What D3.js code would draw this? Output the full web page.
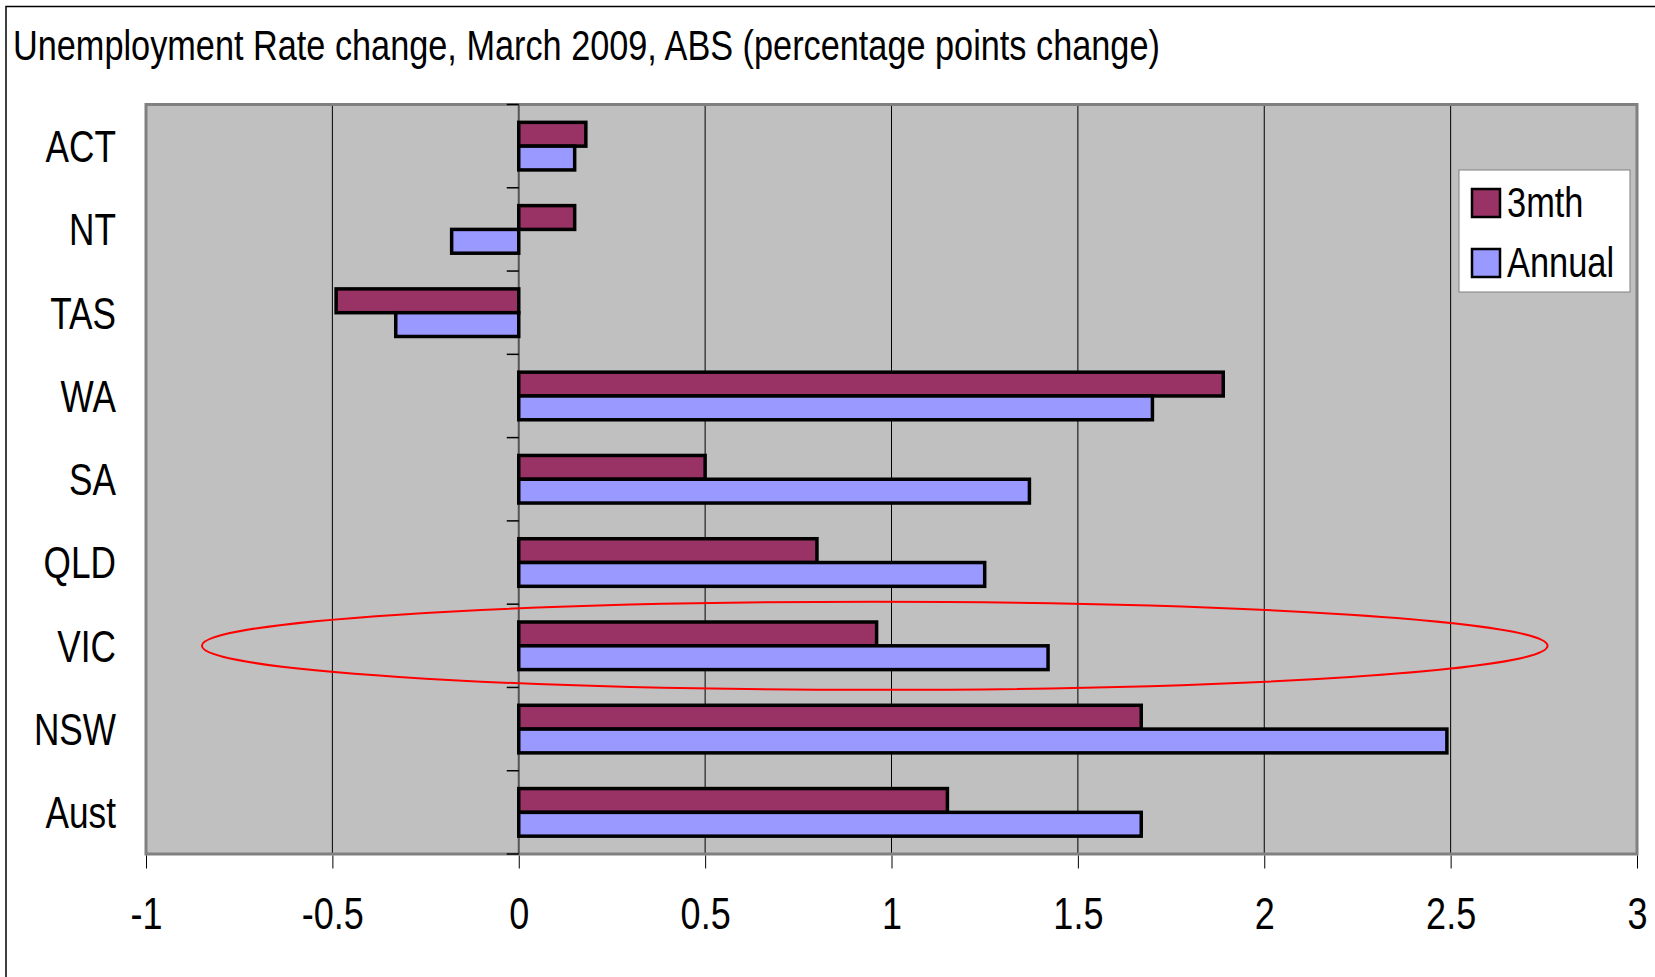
<!DOCTYPE html>
<html>
<head>
<meta charset="utf-8">
<script src="https://cdn.jsdelivr.net/npm/d3@7"></script>
<style>
  body { margin: 0; background: #fff; }
  svg text { font-family: "Liberation Sans Narrow", "Arial Narrow", "Liberation Sans", sans-serif; fill: #000; }
</style>
</head>
<body>
<svg id="chart"></svg>
<script>
// data
const categories = ["ACT", "NT", "TAS", "WA", "SA", "QLD", "VIC", "NSW", "Aust"];
const threeMonth = [0.18, 0.15, -0.49, 1.89, 0.5, 0.8, 0.96, 1.67, 1.15];
const annual = [0.15, -0.18, -0.33, 1.7, 1.37, 1.25, 1.42, 2.49, 1.67];
const seriesNames = ["3mth", "Annual"];
const seriesColors = ["#993366", "#9999FF"];
const xTicks = [-1, -0.5, 0, 0.5, 1, 1.5, 2, 2.5, 3];
const titleText = "Unemployment Rate change, March 2009, ABS (percentage points change)";
// highlight ellipse around VIC, in data units
const highlightCat = "VIC";
const highlightRange = [-0.85, 2.76];

const W = 1655, H = 977;
const plot = { left: 146, right: 1637, top: 104.5, bottom: 854 };

const svg = d3.select("#chart").attr("width", W).attr("height", H);

// no narrow font installed: squeeze the regular one to Arial Narrow width
function narrow(sel, k = 0.8) {
  sel.each(function () {
    const len = this.getComputedTextLength();
    d3.select(this).attr("textLength", len * k).attr("lengthAdjust", "spacingAndGlyphs");
  });
}

// outer chart border (runs off the right/bottom of the picture)
svg.append("rect")
  .attr("x", 6).attr("y", 6.5)
  .attr("width", W + 20).attr("height", H + 20)
  .attr("fill", "#fff").attr("stroke", "#000").attr("stroke-width", 1.5);

svg.append("text")
  .attr("x", 13).attr("y", 60)
  .style("font-size", "43px")
  .text(titleText)
  .call(narrow, 0.797);

const x = d3.scaleLinear().domain([-1, 3]).range([plot.left, plot.right]);
const y = d3.scaleBand().domain(categories)
  .range([plot.top, plot.bottom])
  .paddingInner(0.4286).paddingOuter(0.2143);
const ySub = d3.scaleBand().domain(seriesNames).range([0, y.bandwidth()]);
const step = y.step();

// plot area
svg.append("rect")
  .attr("x", plot.left).attr("y", plot.top)
  .attr("width", plot.right - plot.left).attr("height", plot.bottom - plot.top)
  .attr("fill", "#C0C0C0");

// gridlines
svg.append("g").selectAll("line")
  .data(xTicks.filter((d) => d !== -1 && d !== 3 && d !== 0))
  .enter().append("line")
  .attr("x1", (d) => x(d)).attr("x2", (d) => x(d))
  .attr("y1", plot.top).attr("y2", plot.bottom)
  .attr("stroke", "#000").attr("stroke-width", 1);

// plot border
svg.append("rect")
  .attr("x", plot.left).attr("y", plot.top)
  .attr("width", plot.right - plot.left).attr("height", plot.bottom - plot.top)
  .attr("fill", "none").attr("stroke", "#808080").attr("stroke-width", 3);

// x axis
const xAxis = svg.append("g")
  .attr("transform", `translate(0,${plot.bottom + 1.5})`)
  .call(d3.axisBottom(x).tickValues(xTicks).tickSize(13).tickPadding(16).tickFormat((d) => String(d)));
xAxis.select(".domain").remove();
xAxis.selectAll(".tick line").attr("stroke", "#000");
xAxis.selectAll(".tick text")
  .style("font-size", "45px")
  .attr("dy", "0.71em")
  .attr("y", 42)
  .call(narrow, 0.8);

// vertical axis at zero
svg.append("line")
  .attr("x1", x(0)).attr("x2", x(0))
  .attr("y1", plot.top).attr("y2", plot.bottom)
  .attr("stroke", "#555").attr("stroke-width", 2);
svg.append("g").selectAll("line")
  .data(d3.range(categories.length + 1))
  .enter().append("line")
  .attr("x1", x(0) - 12).attr("x2", x(0))
  .attr("y1", (i) => plot.top + i * step).attr("y2", (i) => plot.top + i * step)
  .attr("stroke", "#000").attr("stroke-width", 1.5);

// category labels
svg.append("g").selectAll("text")
  .data(categories)
  .enter().append("text")
  .attr("x", 116)
  .attr("y", (d) => plot.top + categories.indexOf(d) * step + step / 2)
  .attr("dy", "0.36em")
  .attr("text-anchor", "end")
  .style("font-size", "44px")
  .text((d) => d)
  .call(narrow, 0.8);

// bars
const series = [threeMonth, annual];
series.forEach((vals, si) => {
  svg.append("g").selectAll("rect")
    .data(categories.map((c, i) => ({ c, v: vals[i] })))
    .enter().append("rect")
    .attr("x", (d) => x(Math.min(0, d.v)))
    .attr("y", (d) => y(d.c) + ySub(seriesNames[si]))
    .attr("width", (d) => Math.abs(x(d.v) - x(0)))
    .attr("height", ySub.bandwidth())
    .attr("fill", seriesColors[si])
    .attr("stroke", "#000").attr("stroke-width", 3.5);
});

// legend
const legend = svg.append("g").attr("transform", "translate(1459,170)");
legend.append("rect")
  .attr("width", 171).attr("height", 122)
  .attr("fill", "#fff").attr("stroke", "#808080").attr("stroke-width", 1);
seriesNames.forEach((name, i) => {
  legend.append("rect")
    .attr("x", 13).attr("y", 19 + i * 60)
    .attr("width", 28).attr("height", 28)
    .attr("fill", seriesColors[i])
    .attr("stroke", "#000").attr("stroke-width", 2.5);
  legend.append("text")
    .attr("x", 48).attr("y", 47 + i * 60)
    .style("font-size", "43px")
    .text(name)
    .call(narrow, 0.8);
});

// red highlight ellipse
svg.append("ellipse")
  .attr("cx", (x(highlightRange[0]) + x(highlightRange[1])) / 2)
  .attr("cy", y(highlightCat) + y.bandwidth() / 2)
  .attr("rx", (x(highlightRange[1]) - x(highlightRange[0])) / 2)
  .attr("ry", 44)
  .attr("fill", "none").attr("stroke", "#FF0000").attr("stroke-width", 2);
</script>
</body>
</html>
